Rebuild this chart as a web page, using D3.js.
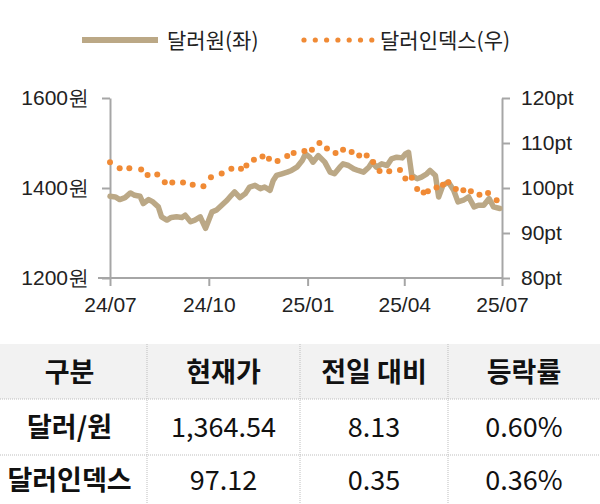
<!DOCTYPE html>
<html><head><meta charset="utf-8">
<script src="https://cdn.jsdelivr.net/npm/d3@7"></script>
<style>body{margin:0;background:#fff}svg{display:block;font-family:"Noto Sans CJK KR","Noto Sans",sans-serif}</style>
</head><body><svg id="c" width="600" height="504"></svg>
<script>
const startDate = "2024-07-01";
const wonDays = [0,5,9,14,19,23,28,31,36,40,45,48,53,57,62,67,70,75,79,84,89,92,95,99,104,109,113,116,121,126,130,135,140,144,149,152,155,160,165,169,174,179,182,186,189,194,197,200,205,209,214,217,222,227,231,236,241,244,248,253,258,262,267,272,275,278,281,286,290,295,298,303,306,310,315,320,324,329,334,339,343,348,353,357,363];
const wonValues = [1381.6,1380.1,1374.3,1378.7,1389.0,1383.8,1381.6,1365.4,1374.3,1369.1,1358.1,1336.0,1328.7,1334.6,1336.0,1334.6,1339.7,1325.0,1328.7,1336.0,1310.3,1328.7,1347.1,1350.7,1361.8,1372.8,1383.8,1391.2,1378.7,1387.5,1402.2,1405.9,1398.5,1402.2,1394.9,1416.9,1428.0,1431.6,1435.3,1439.0,1446.3,1461.0,1475.7,1468.4,1457.4,1472.1,1464.7,1457.4,1435.3,1431.6,1446.3,1453.7,1450.0,1442.6,1439.0,1435.3,1446.3,1457.4,1446.3,1453.7,1450.0,1464.7,1468.4,1466.9,1475.7,1479.4,1428.0,1420.6,1424.3,1431.6,1439.0,1428.0,1380.1,1405.9,1413.3,1394.9,1369.1,1372.8,1380.1,1358.1,1361.8,1361.8,1376.5,1358.1,1354.4];
const dxyDays = [0,9,18,29,35,44,51,58,68,77,87,94,104,113,122,127,134,142,148,156,165,171,181,188,195,202,210,217,225,232,239,245,251,260,270,275,281,286,292,296,304,310,315,322,329,336,344,352,360];
const dxyValues = [105.7,104.4,104.4,104.1,102.9,103.0,101.3,101.2,101.2,100.7,100.4,102.4,103.2,104.3,104.3,105.0,106.3,107.0,106.5,106.0,107.1,107.8,108.2,108.5,110.0,108.8,107.8,108.5,108.0,107.2,107.2,105.8,103.8,103.7,104.0,102.1,102.3,99.8,99.0,99.3,100.1,100.7,101.3,99.8,99.5,99.3,98.5,98.9,97.3];
const leftTicks = [1200,1400,1600];
const rightTicks = [80,90,100,110,120];
const xTickDates = ["2024-07-01","2024-10-01","2025-01-01","2025-04-01","2025-07-01"];
const xTickLabels = ["24/07","24/10","25/01","25/04","25/07"];
const tableHeader = ["구분","현재가","전일 대비","등락률"];
const tableRows = [["달러/원","1,364.54","8.13","0.60%"],["달러인덱스","97.12","0.35","0.36%"]];

const svg = d3.select("#c");
const parse = d3.timeParse("%Y-%m-%d");
const t0 = parse(startDate);
const dayToDate = d => d3.timeDay.offset(t0, d);
const x = d3.scaleTime().domain([parse("2024-07-01"), parse("2025-07-01")]).range([110,502]);
const yL = d3.scaleLinear().domain([1200,1600]).range([278,98]);
const yR = d3.scaleLinear().domain([80,120]).range([278,98]);
const gray="#a6a6a6", lineC="#bba886", dotC="#f08a35";
const FS=21;

const gx = svg.append("g").attr("transform","translate(0,278)")
  .call(d3.axisBottom(x).tickValues(xTickDates.map(parse)).tickFormat((d,i)=>xTickLabels[i]).tickSize(8).tickSizeOuter(0));
gx.select(".domain").attr("stroke",gray).attr("stroke-width",2).attr("d","M98,0H502");
gx.selectAll("line").attr("stroke",gray).attr("stroke-width",2);
gx.selectAll("text").attr("font-size",FS).attr("fill","#222").attr("y",14).attr("dy","0.95em");
const gl = svg.append("g").attr("transform","translate(110,0)")
  .call(d3.axisLeft(yL).tickValues(leftTicks).tickFormat(d=>d+"원").tickSize(8).tickSizeOuter(0));
gl.select(".domain").attr("stroke",gray).attr("stroke-width",2);
gl.selectAll("line").attr("stroke",gray).attr("stroke-width",2);
gl.selectAll("text").attr("font-size",FS).attr("fill","#222").attr("x",-21);
const gr = svg.append("g").attr("transform","translate(502,0)")
  .call(d3.axisRight(yR).tickValues(rightTicks).tickFormat(d=>d+"pt").tickSize(8).tickSizeOuter(0));
gr.select(".domain").attr("stroke",gray).attr("stroke-width",2);
gr.selectAll("line").attr("stroke",gray).attr("stroke-width",2);
gr.selectAll("text").attr("font-size",FS).attr("fill","#222").attr("x",19);

const won = wonDays.map((d,i)=>({date:dayToDate(d),v:wonValues[i]}));
svg.append("path").datum(won).attr("fill","none").attr("stroke",lineC).attr("stroke-width",5.5).attr("stroke-linejoin","round").attr("stroke-linecap","round")
  .attr("d",d3.line().x(d=>x(d.date)).y(d=>yL(d.v)));
const dxy = dxyDays.map((d,i)=>({date:dayToDate(d),v:dxyValues[i]}));
svg.append("g").selectAll("circle").data(dxy).join("circle").attr("cx",d=>x(d.date)).attr("cy",d=>yR(d.v)).attr("r",3).attr("fill",dotC);

svg.append("line").attr("x1",82).attr("x2",158).attr("y1",40).attr("y2",40).attr("stroke",lineC).attr("stroke-width",6);
svg.append("text").attr("x",167).attr("y",48).attr("font-size",FS).attr("fill","#222").text("달러원(좌)");
svg.append("g").selectAll("circle").data(d3.range(7)).join("circle").attr("cx",d=>304+d*11.3).attr("cy",40).attr("r",2.6).attr("fill",dotC);
svg.append("text").attr("x",380).attr("y",48).attr("font-size",FS).attr("fill","#222").text("달러인덱스(우)");

const colB=[0,147,300,448,600], rowB=[344,399,455,504];
svg.append("rect").attr("x",0).attr("y",rowB[0]).attr("width",600).attr("height",rowB[1]-rowB[0]).attr("fill","#f2f2f2");
[1,2,3].forEach(i=>svg.append("line").attr("x1",colB[i]).attr("x2",colB[i]).attr("y1",rowB[0]).attr("y2",504).attr("stroke","#bdbdbd").attr("stroke-dasharray","1,1"));
[1,2].forEach(i=>svg.append("line").attr("x1",0).attr("x2",600).attr("y1",rowB[i]).attr("y2",rowB[i]).attr("stroke","#bdbdbd").attr("stroke-dasharray","1,1"));
const allRows=[tableHeader,...tableRows];
allRows.forEach((row,r)=>row.forEach((txt,c)=>{
  svg.append("text").attr("x",(colB[c]+colB[c+1])/2-(c==0?4:0)).attr("y",(rowB[r]+rowB[r+1])/2+10)
   .attr("text-anchor","middle").attr("font-size",27).attr("fill","#111")
   .attr("font-weight",(r==0||c==0)?"bold":"normal").text(txt);
}));
</script></body></html>
